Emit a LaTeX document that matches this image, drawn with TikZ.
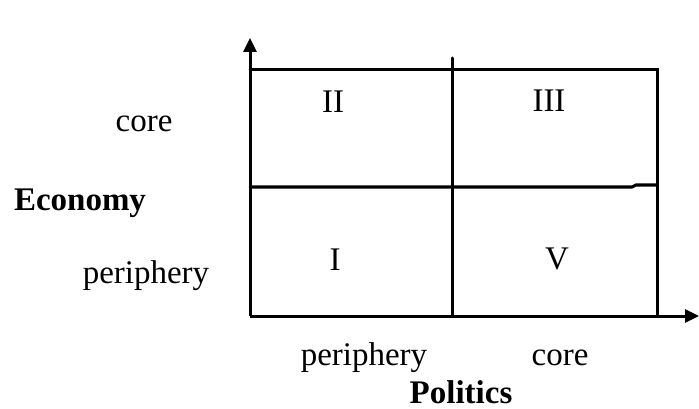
\documentclass[tikz,border=0pt]{standalone}
\usepackage{fontspec}
\setmainfont{Liberation Serif}
\usetikzlibrary{arrows.meta}
\begin{document}
\begin{tikzpicture}[x=1pt,y=-1pt,
  lbl/.style={anchor=base,inner sep=0pt,font=\fontsize{33}{36}\selectfont},
  blbl/.style={lbl,font=\fontsize{33}{36}\selectfont\bfseries},
  gridline/.style={line width=3pt,line cap=round,line join=miter},
  axis/.style={line width=3pt,-{Triangle[length=14pt,width=13pt]}}]
\useasboundingbox (0,0) rectangle (699,409);
% frame and grid
\coordinate (O) at (250,316);
\coordinate (ytop) at (250,38);
\coordinate (xend) at (699,316);
\draw[gridline] (250,70) -- (657,70) -- (657,316);
\draw[gridline] (452,58) -- (452,316);
\draw[gridline] (250,187) -- (632,187) -- (636,185) -- (657,185);
\draw[axis] (O) -- (ytop);
\draw[axis] (O) -- (xend);
% quadrant labels
\node[lbl] (q2) at (333,113) {II};
\node[lbl] (q3) at (549,112) {III};
\node[lbl] (q1) at (335,270) {I};
\node[lbl] (q5) at (557,269) {V};
% axis labels
\node[lbl] (ecore) at (144,132) {core};
\node[blbl] (econ) at (80,210) {Economy};
\node[lbl] (eper) at (146,283) {periphery};
\node[lbl] (pper) at (364,365) {periphery};
\node[lbl] (pcore) at (560,365) {core};
\node[blbl] (pol) at (461,403) {Politics};
\end{tikzpicture}
\end{document}
